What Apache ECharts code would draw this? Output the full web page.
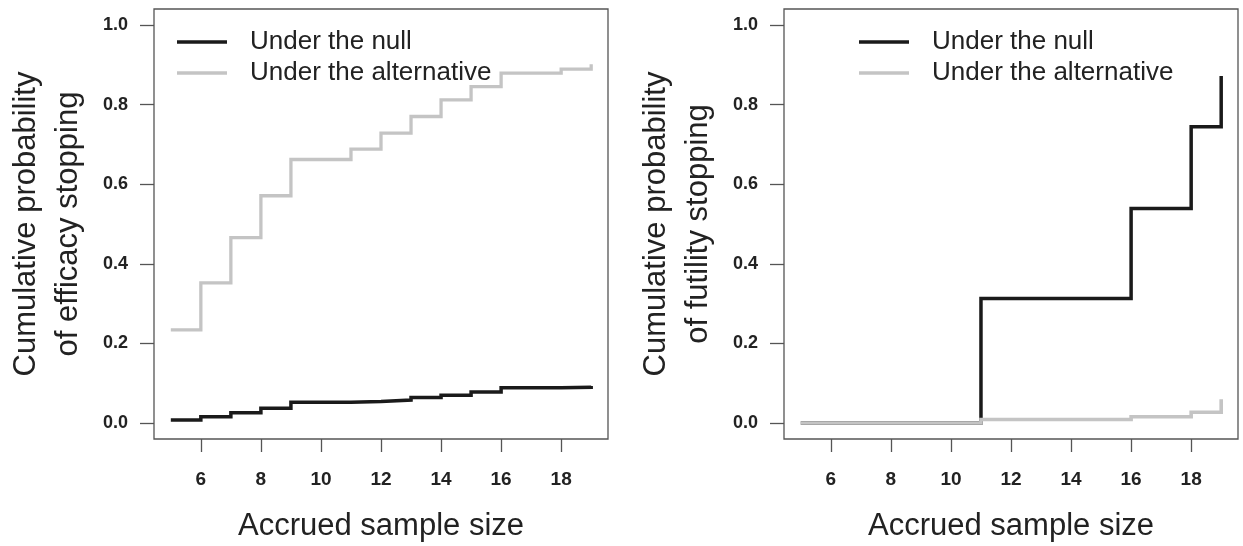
<!DOCTYPE html>
<html>
<head>
<meta charset="utf-8">
<script src="https://cdn.jsdelivr.net/npm/echarts@6/dist/echarts.min.js"></script>
<style>
html,body{margin:0;padding:0;background:#fff;}
#chart{width:1243px;height:546px;}
</style>
</head>
<body>
<div id="chart"></div>
<script>
// ---- data ----
const sampleSizes = [5,6,7,8,9,10,11,12,13,14,15,16,17,18,19];
const efficacyNull = [0.008,0.016,0.026,0.037,0.052,0.052,0.054,0.058,0.064,0.070,0.078,0.089,0.089,0.090,0.093];
const efficacyAlt  = [0.234,0.352,0.466,0.571,0.662,0.662,0.688,0.728,0.770,0.812,0.845,0.879,0.879,0.889,0.901];
const futilityNull = [0,0,0,0,0,0,0.313,0.313,0.313,0.313,0.313,0.539,0.539,0.744,0.872];
const futilityAlt  = [0,0,0,0,0,0,0.009,0.009,0.009,0.009,0.009,0.016,0.016,0.027,0.060];
const xTicks = [6,8,10,12,14,16,18];
const yTicks = [0,0.2,0.4,0.6,0.8,1.0];
const seriesNames = ['Under the null','Under the alternative'];
const xTitle = 'Accrued sample size';
const yTitles = ['Cumulative probability\nof efficacy stopping','Cumulative probability\nof futility stopping'];

// ---- build ----
const FONT = '"Liberation Sans", Arial, sans-serif';
const pair = (xs, ys) => xs.map((x,i)=>[x, ys[i]]);
const frameColor = '#555';
const textColor = '#222';

function xAxis(gi){
  return {
    type:'value', gridIndex:gi, min:4.44, max:19.56, position:'bottom',
    name:xTitle, nameLocation:'middle', nameGap:72,
    nameTextStyle:{fontFamily:FONT,fontSize:31,color:textColor},
    axisLine:{show:false,onZero:false},
    axisTick:{show:true,inside:false,length:13,customValues:xTicks,lineStyle:{color:frameColor,width:1.3}},
    axisLabel:{customValues:xTicks,margin:31,fontFamily:FONT,fontSize:19,fontWeight:'bold',color:textColor},
    splitLine:{show:false}
  };
}
function yAxis(gi){
  return {
    type:'value', gridIndex:gi, min:-0.04, max:1.04, position:'left',
    name:yTitles[gi], nameLocation:'middle', nameGap:65, nameRotate:90,
    nameTextStyle:{fontFamily:FONT,fontSize:31,color:textColor,lineHeight:42},
    axisLine:{show:false,onZero:false},
    axisTick:{show:true,inside:false,length:14,customValues:yTicks,lineStyle:{color:frameColor,width:1.3}},
    axisLabel:{customValues:yTicks,margin:26,fontFamily:FONT,fontSize:18,fontWeight:'bold',color:textColor,
      formatter:v=>Number(v).toFixed(1)},
    splitLine:{show:false}
  };
}
function line(name, gi, ys, color, w){
  return {
    name, type:'line', xAxisIndex:gi, yAxisIndex:gi, step:'end',
    data: pair(sampleSizes, ys), symbol:'none', showSymbol:false,
    lineStyle:{color, width:w, cap:'butt', join:'miter'}, itemStyle:{color},
    animation:false
  };
}
const legendCommon = {
  orient:'vertical', padding:0, itemWidth:50, itemHeight:3.5, itemGap:5,
  icon:'rect',
  textStyle:{fontFamily:FONT,fontSize:26,color:textColor,lineHeight:26,padding:[0,0,0,18]},
  data:seriesNames
};

const gridCommon = {show:true, borderColor:frameColor, borderWidth:1.3, backgroundColor:'transparent',
  containLabel:false, outerBoundsMode:'none'};
const option = {
  backgroundColor:'#fff',
  animation:false,
  grid:[
    Object.assign({left:154, right:635, top:9, bottom:107}, gridCommon),
    Object.assign({left:784, right:5, top:9, bottom:107}, gridCommon)
  ],
  legend:[
    Object.assign({left:177, top:29}, legendCommon),
    Object.assign({left:859, top:29}, legendCommon)
  ],
  xAxis:[xAxis(0), xAxis(1)],
  yAxis:[yAxis(0), yAxis(1)],
  series:[
    line(seriesNames[0],0,efficacyNull,'#1a1a1a',3.5),
    line(seriesNames[1],0,efficacyAlt,'#c4c4c4',3.3),
    line(seriesNames[0],1,futilityNull,'#1a1a1a',3.5),
    line(seriesNames[1],1,futilityAlt,'#c4c4c4',3.6)
  ]
};
const chart = echarts.init(document.getElementById('chart'), null, {renderer:'canvas'});
chart.setOption(option);
</script>
</body>
</html>
